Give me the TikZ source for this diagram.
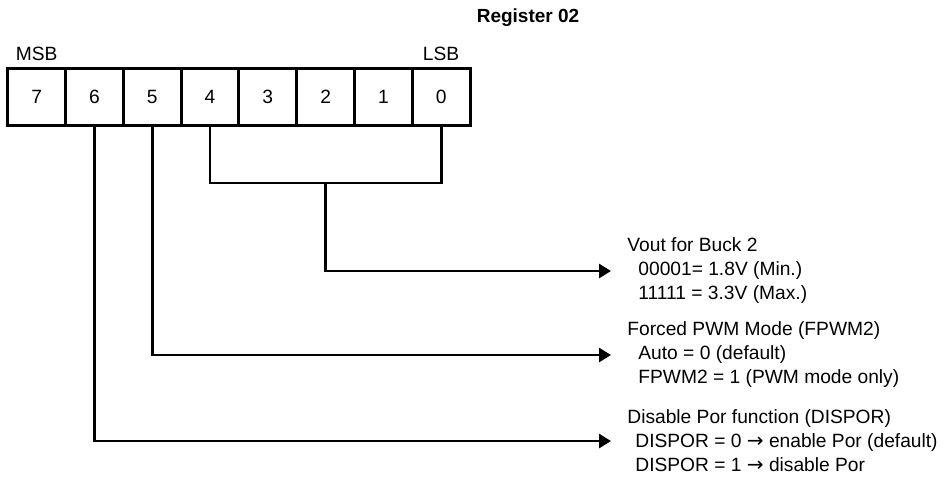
\documentclass[tikz,border=0pt]{standalone}
\usepackage{fontspec}
\setmainfont{Liberation Sans}
\newfontfamily\arrowfont{DejaVu Sans}
\newcommand{\rarr}{{\arrowfont\fontsize{10}{12}\selectfont →}}
\usetikzlibrary{arrows.meta}

\tikzset{
  cell/.style={draw, line width=1.5pt, minimum width=28.9pt, minimum height=28.5pt, inner sep=0pt},
  conn/.style={line width=1.4pt},
  arr/.style={conn, -{Triangle[length=6pt,width=7pt]}, shorten >=8pt},
  desc/.style={anchor=west, align=left, inner sep=0pt},
}

\begin{document}
\begin{tikzpicture}[x=0.5pt, y=-0.5pt, font=\fontsize{9.6}{12}\selectfont]
\useasboundingbox (0,0) rectangle (946,479);

\node[font=\fontsize{9.5}{12}\selectfont\bfseries] (title) at (528,18) {Register 02};
\node (msb) at (36.7,54) {MSB};
\node (lsb) at (441,54) {LSB};

% Bits
\foreach \b [count=\i from 0] in {7,6,...,0}
	\node[cell] (b\b) at (36.6+57.8*\i,96.7) {\b};

% Descriptions
\node[desc] (vout) at (627,271) {Vout for Buck 2\\\hspace*{5.5pt}00001= 1.8V (Min.)\\\hspace*{5.5pt}11111 = 3.3V (Max.)};
\node[desc] (pwm) at (627,355) {Forced PWM Mode (FPWM2)\\\hspace*{5.5pt}Auto = 0 (default)\\\hspace*{5.5pt}FPWM2 = 1 (PWM mode only)};
\node[desc] (dis) at (627,441) {Disable Por function (DISPOR)\\\hspace*{4pt}DISPOR = 0 \rarr{} enable Por (default)\\\hspace*{4pt}DISPOR = 1 \rarr{} disable Por};

% Connectors
\coordinate (brk) at (325.5,183);
\draw[conn] (b4.south) |- (brk) -| (b0.south);
\draw[arr] (brk) |- (vout.west);
\draw[arr] (b5.south) |- (pwm.west);
\draw[arr] (b6.south) |- (dis.west);
\end{tikzpicture}
\end{document}
